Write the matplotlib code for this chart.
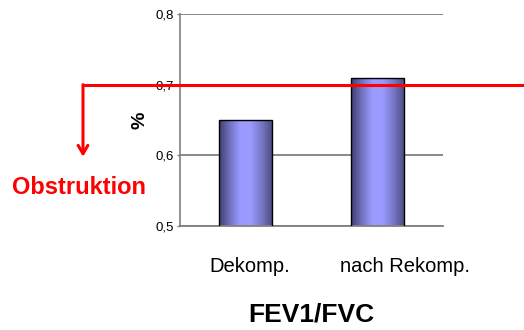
import numpy as np
import matplotlib
matplotlib.use("Agg")
import matplotlib.pyplot as plt
from matplotlib.colors import LinearSegmentedColormap
from matplotlib.transforms import blended_transform_factory

plt.rcParams['font.family'] = ['Liberation Sans', 'DejaVu Sans']

# FEV1/FVC ratio before and after recompression
categories = ['Dekomp.', 'nach Rekomp.']
values = [0.65, 0.71]
label_shift = [0.03, 0.21]   # label offsets from bar centre (x units)
y_ticks = [0.5, 0.6, 0.7, 0.8]
y_tick_labels = ['0,5', '0,6', '0,7', '0,8']
threshold = 0.7
arrow_end = 0.598
threshold_label = 'Obstruktion'

fig = plt.figure(figsize=(5.24, 3.30), dpi=100)
ax = fig.add_axes([0.3435, 0.3152, 0.502, 0.6424])

x = np.arange(len(values))
ax.set_xlim(-0.5, 1.5)
ax.set_ylim(0.5, 0.8)

# cylinder-like shading across each bar
shade = LinearSegmentedColormap.from_list(
    'shade', ['#3e3e6c', '#7070c0', '#9a9aff', '#9a9aff', '#7878c8', '#4e4e86'])
grad = np.linspace(0, 1, 256).reshape(1, -1)
bars = ax.bar(x, values, width=0.4, bottom=0, color='none',
              edgecolor='black', linewidth=1.0, zorder=3)
for b in bars:
    x0, w, h = b.get_x(), b.get_width(), b.get_height()
    im = ax.imshow(grad, cmap=shade, aspect='auto',
                   extent=[x0, x0 + w, 0.5, h], zorder=2.5)
    im.set_clip_path(b)

ax.set_yticks(y_ticks)
ax.set_yticklabels(y_tick_labels, fontsize=9.5)
ax.yaxis.grid(True, color='#808080', linewidth=1.3, zorder=1)
ax.set_axisbelow(True)
ax.tick_params(axis='y', length=2.5, width=1, color='#808080', pad=2)
ax.set_xticks([])
for s in ['top', 'right']:
    ax.spines[s].set_visible(False)
ax.spines['left'].set_color('#808080')
ax.spines['bottom'].set_color('#808080')
ax.spines['left'].set_linewidth(1.2)
ax.spines['bottom'].set_linewidth(1.3)

xlab_tr = blended_transform_factory(ax.transData, ax.transAxes)
for xi, name, dx in zip(x, categories, label_shift):
    ax.text(xi + dx, -0.19, name, transform=xlab_tr, ha='center',
            va='center', fontsize=14.5)

ax.set_xlabel('FEV1/FVC', fontsize=19, fontweight='bold', labelpad=55)
ax.set_ylabel('%', fontsize=14, fontweight='bold', labelpad=5)

# threshold line running past the axes, with arrow down to the label
tr = blended_transform_factory(fig.transFigure, ax.transData)
x_left = 83 / 524
ax.plot([x_left, 1.0], [threshold, threshold], color='red', lw=2.2,
        transform=tr, clip_on=False, zorder=5, solid_capstyle='butt')
ax.annotate('', xy=(x_left, arrow_end), xytext=(x_left, threshold),
            xycoords=tr, textcoords=tr,
            arrowprops=dict(arrowstyle='->,head_length=0.6,head_width=0.35',
                            color='red', lw=2.2, shrinkA=0, shrinkB=0),
            annotation_clip=False, zorder=5)
fig.text(79 / 524, 1 - 187 / 330, threshold_label, color='red', fontsize=17,
         fontweight='bold', ha='center', va='center')

fig.savefig('out.png', dpi=100)
